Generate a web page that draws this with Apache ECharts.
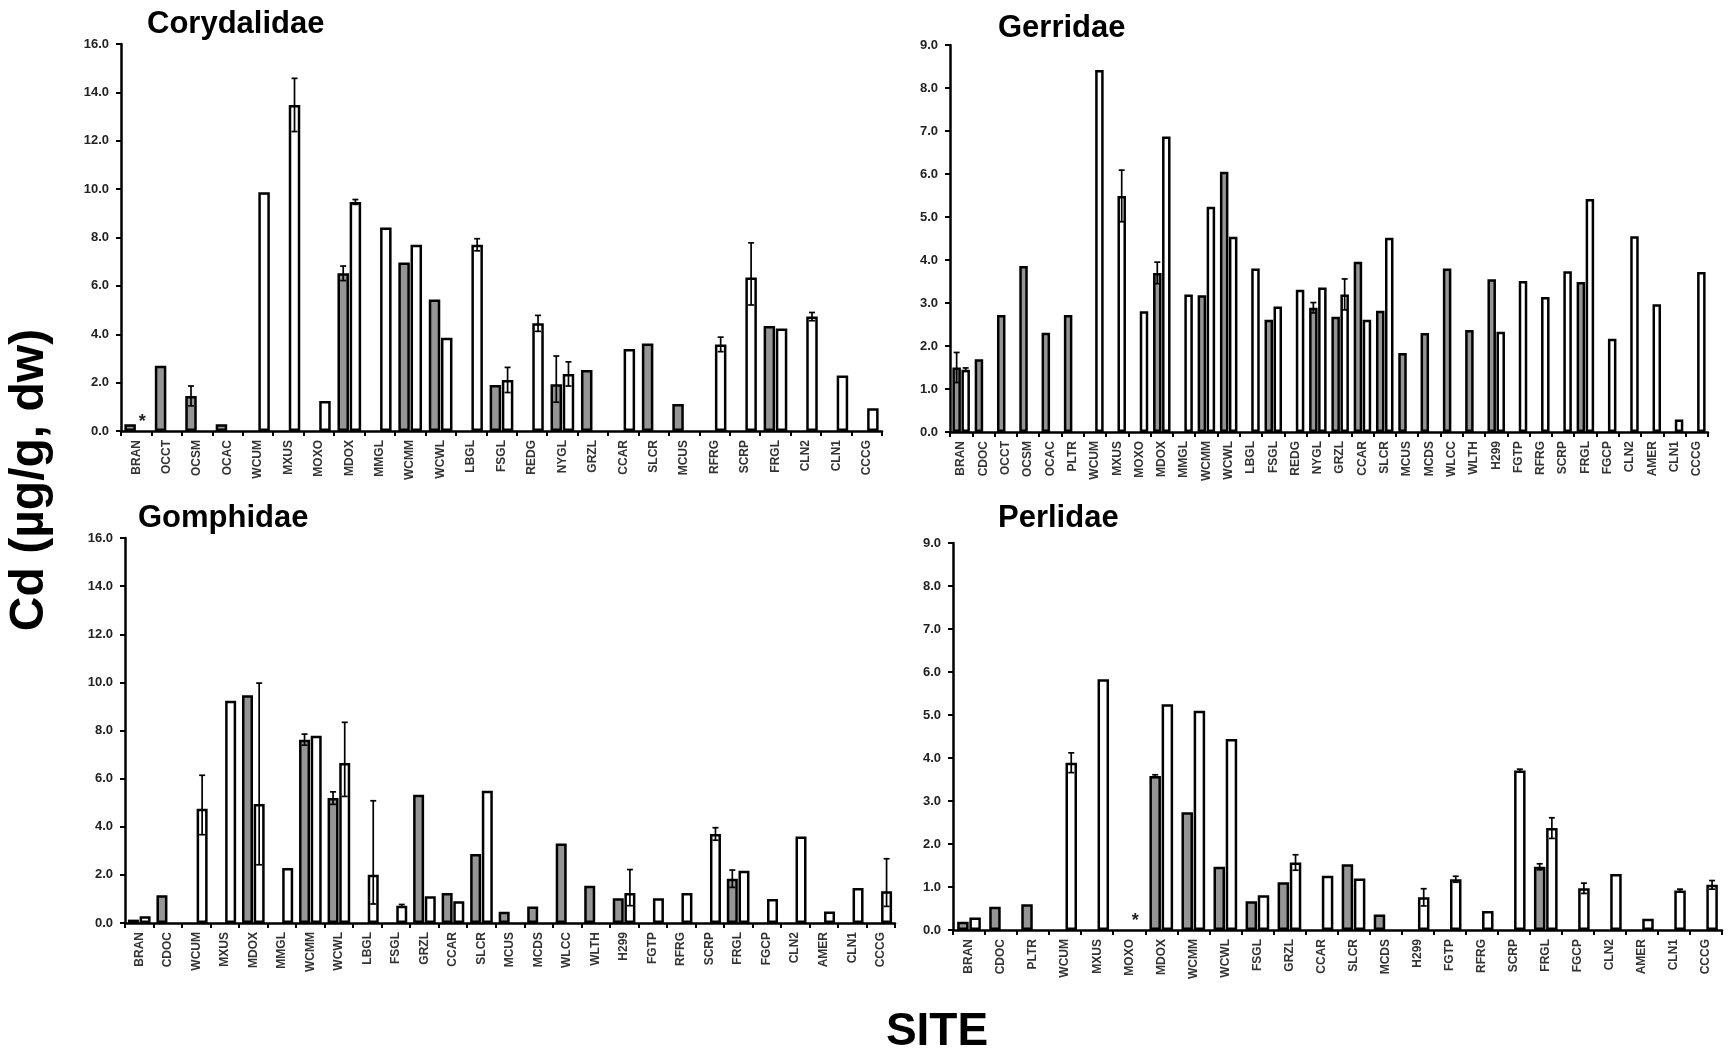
<!DOCTYPE html>
<html>
<head>
<meta charset="utf-8">
<title>Cd in aquatic insect families by site</title>
<script src="https://cdn.jsdelivr.net/npm/echarts@6/dist/echarts.min.js"></script>
<style>
  html, body { margin: 0; padding: 0; background: #fff; }
  #chart { width: 1729px; height: 1055px; }
</style>
</head>
<body>
<div id="chart"></div>
<script>
// ---- Corydalidae ----
const coryCats = ['BRAN','OCCT','OCSM','OCAC','WCUM','MXUS','MOXO','MDOX','MMGL','WCMM','WCWL','LBGL','FSGL','REDG','NYGL','GRZL','CCAR','SLCR','MCUS','RFRG','SCRP','FRGL','CLN2','CLN1','CCCG'];
const coryGray  = [0.28, 2.70, 1.45, 0.28, null, null, null, 6.52, null, 6.97, 5.44, null, 1.90, null, 1.93, 2.52, null, 3.62, 1.12, null, null, 4.34, null, null, null];
const coryWhite = [null, null, null, null, 9.87, 13.48, 1.24, 9.47, 8.41, 7.70, 3.86, 7.70, 2.11, 4.45, 2.36, null, 3.39, null, null, 3.58, 6.35, 4.24, 4.73, 2.29, 0.94];
const coryGrayErr  = [null, null, 0.41, null, null, null, null, 0.30, null, null, null, null, null, null, [0.74, 1.17], null, null, null, null, null, null, null, null, null, null];
const coryWhiteErr = [null, null, null, null, null, 1.10, null, 0.10, null, null, null, 0.25, 0.52, 0.33, 0.50, null, null, null, null, 0.30, [1.14, 1.43], null, 0.17, null, null];
const coryWhiteStar = ['BRAN'];

// ---- Gerridae ----
const gerrCats = ['BRAN','CDOC','OCCT','OCSM','OCAC','PLTR','WCUM','MXUS','MOXO','MDOX','MMGL','WCMM','WCWL','LBGL','FSGL','REDG','NYGL','GRZL','CCAR','SLCR','MCUS','MCDS','WLCC','WLTH','H299','FGTP','RFRG','SCRP','FRGL','FGCP','CLN2','AMER','CLN1','CCCG'];
const gerrGray  = [1.50, 1.69, 2.72, 3.86, 2.31, 2.72, null, null, null, 3.70, null, 3.18, 6.05, null, 2.61, null, 2.89, 2.68, 3.96, 2.82, 1.84, 2.30, 3.80, 2.37, 3.55, null, null, null, 3.49, null, null, null, null, null];
const gerrWhite = [1.45, null, null, null, null, null, 8.42, 5.49, 2.81, 6.87, 3.20, 5.24, 4.54, 3.80, 2.92, 3.31, 3.36, 3.20, 2.61, 4.52, null, null, null, null, 2.33, 3.51, 3.14, 3.74, 5.42, 2.17, 4.55, 2.97, 0.29, 3.72];
const gerrGrayErr  = [0.35, null, null, null, null, null, null, null, null, 0.25, null, null, null, null, null, null, 0.12, null, null, null, null, null, null, null, null, null, null, null, null, null, null, null, null, null];
const gerrWhiteErr = [0.04, null, null, null, null, null, null, 0.60, null, null, null, null, null, null, null, null, null, 0.36, null, null, null, null, null, null, null, null, null, null, null, null, null, null, null, null];
const gerrWhiteStar = [];

// ---- Gomphidae ----
const gompCats = ['BRAN','CDOC','WCUM','MXUS','MDOX','MMGL','WCMM','WCWL','LBGL','FSGL','GRZL','CCAR','SLCR','MCUS','MCDS','WLCC','WLTH','H299','FGTP','RFRG','SCRP','FRGL','FGCP','CLN2','AMER','CLN1','CCCG'];
const gompGray  = [0.14, 1.15, null, null, 9.46, null, 7.62, 5.19, null, null, 5.33, 1.25, 2.87, 0.47, 0.69, 3.30, 1.55, 1.03, null, null, null, 1.84, null, null, null, null, null];
const gompWhite = [0.28, null, 4.75, 9.24, 4.95, 2.29, 7.78, 6.65, 2.01, 0.72, 1.11, 0.90, 5.50, null, null, null, null, 1.25, 1.03, 1.25, 3.70, 2.17, 1.00, 3.60, 0.48, 1.45, 1.32];
const gompGrayErr  = [null, null, null, null, null, null, 0.23, 0.26, null, null, null, null, null, null, null, null, null, null, null, null, null, 0.36, null, null, null, null, null];
const gompWhiteErr = [null, null, [1.08, 1.39], null, [2.53, 5.02], null, null, [1.39, 1.69], [1.22, 3.07], 0.05, null, null, null, null, null, null, null, [0.53, 0.97], null, null, 0.26, null, null, null, null, null, [0.63, 1.35]];
const gompWhiteStar = [];

// ---- Perlidae ----
const perlCats = ['BRAN','CDOC','PLTR','WCUM','MXUS','MOXO','MDOX','WCMM','WCWL','FSGL','GRZL','CCAR','SLCR','MCDS','H299','FGTP','RFRG','SCRP','FRGL','FGCP','CLN2','AMER','CLN1','CCCG'];
const perlGray  = [0.19, 0.54, 0.60, null, null, null, 3.58, 2.74, 1.47, 0.67, 1.11, null, 1.53, 0.36, null, null, null, null, 1.47, null, null, null, null, null];
const perlWhite = [0.29, null, null, 3.89, 5.83, null, 5.25, 5.10, 4.44, 0.81, 1.57, 1.26, 1.20, null, 0.76, 1.18, 0.44, 3.71, 2.37, 0.97, 1.30, 0.26, 0.92, 1.05];
const perlGrayErr  = [null, null, null, null, null, null, 0.03, null, null, null, null, null, null, null, null, null, null, null, 0.07, null, null, null, null, null];
const perlWhiteErr = [null, null, null, 0.23, null, null, null, null, null, null, 0.18, null, null, null, 0.20, 0.07, null, 0.03, 0.24, 0.12, null, null, 0.03, 0.10];
const perlWhiteStar = ['MOXO'];

// ---- layout and style ----
const FONT = "'Liberation Sans', Arial, Helvetica, sans-serif";
const GRAY_FILL = '#959595';
const BORDER = 2.5;

const panels = [
  { name: 'Corydalidae', cats: coryCats, gray: coryGray, white: coryWhite, grayErr: coryGrayErr, whiteErr: coryWhiteErr, star: coryWhiteStar,
    max: 16, step: 2, grid: { left: 121, top: 44, width: 761, height: 387 }, titleAt: [147, 24], bw: 11.5, gap: 0.06 },
  { name: 'Gerridae', cats: gerrCats, gray: gerrGray, white: gerrWhite, grayErr: gerrGrayErr, whiteErr: gerrWhiteErr, star: gerrWhiteStar,
    max: 9, step: 1, grid: { left: 950, top: 45, width: 758, height: 387 }, titleAt: [998, 28], bw: 8.5, gap: 0.06 },
  { name: 'Gomphidae', cats: gompCats, gray: gompGray, white: gompWhite, grayErr: gompGrayErr, whiteErr: gompWhiteErr, star: gompWhiteStar,
    max: 16, step: 2, grid: { left: 125, top: 538, width: 770, height: 385 }, titleAt: [138, 518], bw: 11, gap: 0.06 },
  { name: 'Perlidae', cats: perlCats, gray: perlGray, white: perlWhite, grayErr: perlGrayErr, whiteErr: perlWhiteErr, star: perlWhiteStar,
    max: 9, step: 1, grid: { left: 953, top: 543, width: 769, height: 387 }, titleAt: [998, 518], bw: 11.5, gap: 0.06 }
];

const grids = [], xAxes = [], yAxes = [], series = [], graphics = [];

function barSeries(p, idx, values, fill, starCats) {
  const data = values.map((v, i) => {
    if (v == null && starCats.includes(p.cats[i])) {
      // site with no detectable value: marked by an asterisk on the baseline
      return {
        value: 0,
        itemStyle: { borderWidth: 0, color: 'rgba(0,0,0,0)' },
        label: { show: true, position: 'top', distance: 0, formatter: '*',
                 fontSize: 18, fontWeight: 'bold', color: '#222', fontFamily: FONT }
      };
    }
    return v;
  });
  return {
    type: 'bar', xAxisIndex: idx, yAxisIndex: idx,
    barWidth: p.bw, barGap: (p.gap * 100) + '%',
    itemStyle: { color: fill, borderColor: '#000', borderWidth: BORDER },
    emphasis: { disabled: true },
    data
  };
}

function errSeries(p, idx, values, errs, side) {
  const data = [];
  values.forEach((v, i) => {
    const e = errs[i];
    if (v == null || e == null) return;
    const dn = Array.isArray(e) ? e[0] : e;
    const up = Array.isArray(e) ? e[1] : e;
    data.push([i, v, v - dn, v + up]);
  });
  const shift = side * p.bw * (1 + p.gap) / 2;
  return {
    type: 'custom', xAxisIndex: idx, yAxisIndex: idx, z: 5,
    encode: { x: 0, y: [1, 2, 3] },
    renderItem: function (params, api) {
      const x = api.coord([api.value(0), api.value(1)])[0] + shift;
      const yLo = api.coord([api.value(0), api.value(2)])[1];
      const yHi = api.coord([api.value(0), api.value(3)])[1];
      const cap = 3;
      const st = { stroke: '#000', lineWidth: 1.7 };
      return {
        type: 'group',
        children: [
          { type: 'line', shape: { x1: x, y1: yLo, x2: x, y2: yHi }, style: st },
          { type: 'line', shape: { x1: x - cap, y1: yHi, x2: x + cap, y2: yHi }, style: st },
          { type: 'line', shape: { x1: x - cap, y1: yLo, x2: x + cap, y2: yLo }, style: st }
        ]
      };
    },
    data
  };
}

panels.forEach((p, idx) => {
  grids.push(Object.assign({ containLabel: false }, p.grid));
  xAxes.push({
    type: 'category', gridIndex: idx, data: p.cats,
    axisLine: { lineStyle: { color: '#000', width: 2.5 } },
    axisTick: { show: true, length: 5, lineStyle: { color: '#000', width: 2 } },
    axisLabel: { interval: 0, rotate: 90, margin: 9, fontSize: 12, fontWeight: 'bold', color: '#333', fontFamily: FONT },
    splitLine: { show: false }
  });
  yAxes.push({
    type: 'value', gridIndex: idx, min: 0, max: p.max, interval: p.step,
    axisLine: { show: true, lineStyle: { color: '#000', width: 2.5 } },
    axisTick: { show: true, length: 5, lineStyle: { color: '#000', width: 2 } },
    axisLabel: { margin: 12, fontSize: 13, fontWeight: 'bold', color: '#222', fontFamily: FONT,
                 formatter: v => v.toFixed(1) },
    splitLine: { show: false }
  });
  series.push(barSeries(p, idx, p.gray, GRAY_FILL, []));
  series.push(barSeries(p, idx, p.white, '#ffffff', p.star));
  series.push(errSeries(p, idx, p.gray, p.grayErr, -1));
  series.push(errSeries(p, idx, p.white, p.whiteErr, 1));
  graphics.push({
    type: 'text', x: p.titleAt[0], y: p.titleAt[1],
    style: { text: p.name, fontSize: 31, fontWeight: 'bold', fontFamily: FONT, fill: '#000',
             align: 'left', verticalAlign: 'middle' }
  });
});

graphics.push({
  type: 'text', x: 30, y: 480, rotation: Math.PI / 2,
  style: { text: 'Cd (µg/g, dw)', fontSize: 48, fontWeight: 'bold', fontFamily: FONT, fill: '#000',
           align: 'center', verticalAlign: 'middle' }
});
graphics.push({
  type: 'text', x: 937, y: 1032,
  style: { text: 'SITE', fontSize: 46, fontWeight: 'bold', fontFamily: FONT, fill: '#000',
           align: 'center', verticalAlign: 'middle' }
});

const chart = echarts.init(document.getElementById('chart'), null, { renderer: 'canvas' });
chart.setOption({
  backgroundColor: '#ffffff',
  animation: false,
  textStyle: { fontFamily: FONT },
  grid: grids,
  xAxis: xAxes,
  yAxis: yAxes,
  series: series,
  graphic: graphics
});
</script>
</body>
</html>
